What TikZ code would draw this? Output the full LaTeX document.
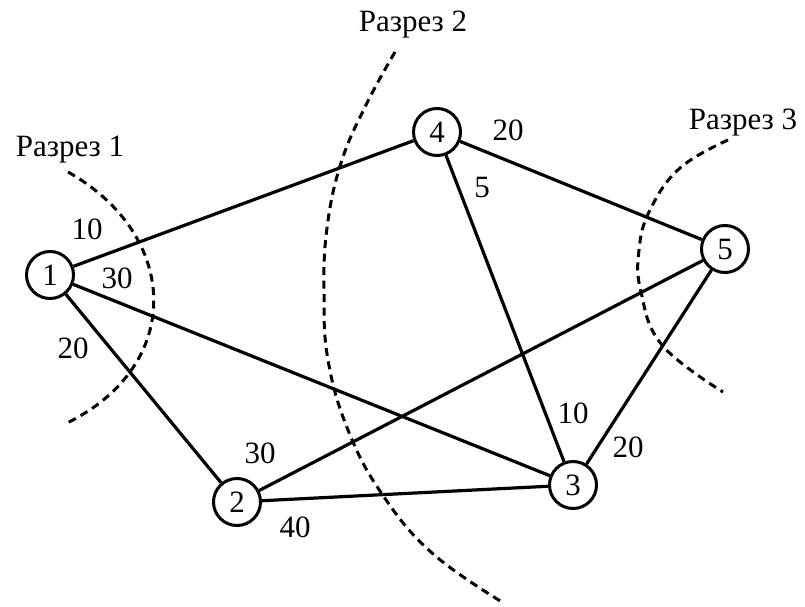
\documentclass[tikz,border=0pt]{standalone}
\usepackage{fontspec}
\setmainfont{Liberation Serif}
\begin{document}
\begin{tikzpicture}[x={(1pt,0)},y={(0,-1pt)},
  vert/.style={circle,draw,line width=3pt,minimum size=47pt,inner sep=0pt,font=\fontsize{31}{33}\selectfont},
  edge/.style={line width=3.2pt},
  cut/.style={line width=3pt,dash pattern=on 8pt off 5.5pt},
  lbl/.style={font=\fontsize{31}{33}\selectfont,inner sep=0pt}]
\useasboundingbox (0,0) rectangle (805,607);
\node[vert] (n1) at (50,275) {1};
\node[vert] (n4) at (437,132) {4};
\node[vert] (n5) at (725,249) {5};
\node[vert] (n3) at (573,485) {3};
\node[vert] (n2) at (237,502) {2};
\draw[edge] (n1) -- (n4);
\draw[edge] (n1) -- (n3);
\draw[edge] (n1) -- (n2);
\draw[edge] (n4) -- (n5);
\draw[edge] (n4) -- (n3);
\draw[edge] (n5) -- (n2);
\draw[edge] (n5) -- (n3);
\draw[edge] (n2) -- (n3);
% cuts
\draw[cut] (68,172) .. controls (180,235) and (185,365) .. (67,423);
\draw[cut] plot[smooth,tension=0.7] coordinates {(395,52) (366,105) (341,163) (327,228) (324,293) (328,360) (348,430) (382,494) (432,553) (502,602)};
\draw[cut] plot[smooth,tension=0.7] coordinates {(728,140) (680,168) (650,210) (639,250) (641,292) (662,345) (723,392)};
% labels
\node[lbl] (c1) at (70,150) {Разрез 1};
\node[lbl] (c2) at (413,25) {Разрез 2};
\node[lbl] (c3) at (743,123) {Разрез 3};
\node[lbl] (w14) at (87,229) {10};
\node[lbl] (w13) at (117,278) {30};
\node[lbl] (w12) at (73,348) {20};
\node[lbl] (w45) at (508,130) {20};
\node[lbl] (w43) at (482,188) {5};
\node[lbl] (w25) at (260,453) {30};
\node[lbl] (w23) at (295,527) {40};
\node[lbl] (w34) at (573,413) {10};
\node[lbl] (w35) at (628,447) {20};
\end{tikzpicture}
\end{document}
